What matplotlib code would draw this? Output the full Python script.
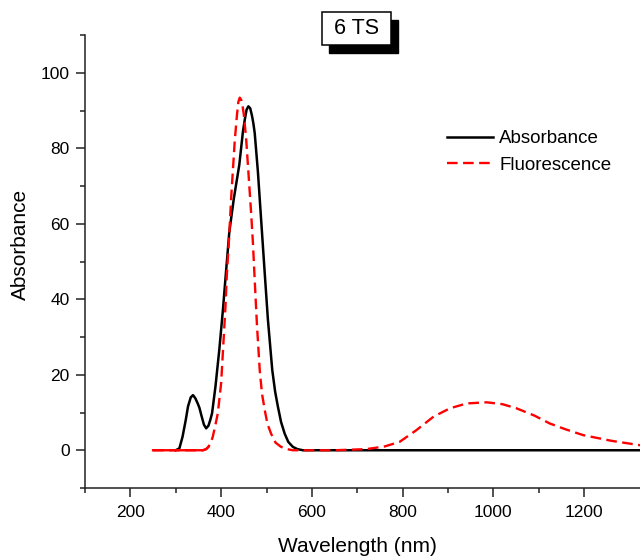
import matplotlib
matplotlib.use("Agg")
import matplotlib.pyplot as plt
from matplotlib.patches import Rectangle
from matplotlib.ticker import MultipleLocator, FixedLocator

plt.rcParams['font.family'] = ['Liberation Sans', 'DejaVu Sans']

# ---- data ----
abs_wl = [300, 308, 315, 322, 327, 333, 338, 343, 348, 352, 357, 362, 367, 372, 376,
          380, 387.5, 396, 404, 410, 418, 428, 440, 448, 452, 456, 460, 464, 468, 471, 474,
          481, 489, 496, 503, 512.6, 519, 525, 532, 540, 548, 558, 568, 580, 700, 1000, 1330]
abs_val = [0, 0.5, 3.6, 8, 11.6, 14, 14.6, 13.8, 12.5, 11.3, 9, 6.8, 5.8, 6.5, 8,
           9.8, 16.9, 26.7, 37.3, 46.2, 57.8, 66.7, 75.6, 84.4, 87.5, 90.2, 91.1, 90.6, 88.6, 86.6, 84.0,
           73.8, 59.5, 47, 34.7, 21.3, 15.5, 11.6, 7.5, 4.4, 2.2, 0.9, 0.3, 0, 0, 0, 0]

flu_wl = [250, 360, 367, 372, 377, 381.6, 387, 392.7, 400, 405, 409.6, 412.4, 417, 422,
          430, 435, 438, 441, 444, 447, 450, 455, 461, 466, 470, 474, 479, 485, 490, 496,
          502, 510, 520, 532, 545, 558, 650, 720, 760, 793, 830, 868, 904, 941,
          985, 1020, 1051, 1090, 1124, 1160, 1198, 1260, 1325]
flu_val = [0, 0, 0.3, 0.9, 2.0, 3.6, 6.5, 9.8, 17.8, 28.4, 38.2, 46.2, 55.1, 66.7,
           82, 89, 92.3, 93.4, 92.9, 91.4, 88.9, 82.7, 72, 63, 55, 45, 33, 21.3, 15, 10.7,
           7, 4.4, 2, 0.9, 0.3, 0, 0, 0.3, 1, 2.2, 5.3, 8.9, 11.1, 12.4,
           12.7, 12.2, 11.1, 9.2, 7.1, 5.5, 4, 2.5, 1.3]

series_labels = ["Absorbance", "Fluorescence"]
x_ticks = [200, 400, 600, 800, 1000, 1200]
y_ticks = [0, 20, 40, 60, 80, 100]

W, H = 640, 557
fig = plt.figure(figsize=(W / 100, H / 100), dpi=100)
ax = fig.add_axes([85 / W, 1 - 488 / H, (W - 85) / W, (488 - 35) / H])

ax.plot(abs_wl, abs_val, color='black', lw=1.8, label=series_labels[0])
ax.plot(flu_wl, flu_val, color='#ff0000', lw=1.7, dashes=(4.5, 2.3), label=series_labels[1])
# flat baseline part of the fluorescence trace renders solid in the original
ax.plot(flu_wl[:4], flu_val[:4], color='#ff0000', lw=1.7)

ax.set_xlim(100, 1323)
ax.set_ylim(-10, 110)
ax.set_xticks(x_ticks)
ax.set_yticks(y_ticks)
ax.xaxis.set_minor_locator(FixedLocator([100, 300, 500, 700, 900, 1100]))
ax.yaxis.set_minor_locator(MultipleLocator(10))

for s in ['top', 'right']:
    ax.spines[s].set_visible(False)
for s in ['left', 'bottom']:
    ax.spines[s].set_linewidth(1.1)
    ax.spines[s].set_color('#222222')

ax.tick_params(which='major', direction='out', length=6.5, width=1.1, labelsize=12.5,
               pad=4.5, color='#222222')
ax.tick_params(which='minor', direction='out', length=3.5, width=1.1, color='#222222')
ax.tick_params(axis='x', which='major', pad=5.5)

fig.text(357 / W, 1 - 547 / H, "Wavelength (nm)", ha='center', va='center', fontsize=15)
fig.text(20 / W, 1 - 244 / H, "Absorbance", ha='center', va='center', rotation=90, fontsize=15)

leg = ax.legend(loc='upper left', bbox_to_anchor=(446.7 / W, 1 - 130.3 / H),
                bbox_transform=fig.transFigure, frameon=False, fontsize=13.5,
                handlelength=2.45, handletextpad=0.35, labelspacing=0.5,
                borderpad=0, borderaxespad=0)

# title box with shadow
bx0, bx1, by0, by1 = 321.7, 390.7, 11.7, 45
off_x, off_y = 7, 8
fig.patches.append(Rectangle(((bx0 + off_x) / W, 1 - (by1 + off_y) / H),
                             (bx1 - bx0) / W, (by1 - by0) / H,
                             transform=fig.transFigure, facecolor='black',
                             edgecolor='black', zorder=5))
fig.patches.append(Rectangle((bx0 / W, 1 - by1 / H), (bx1 - bx0) / W, (by1 - by0) / H,
                             transform=fig.transFigure, facecolor='white',
                             edgecolor='black', lw=1.1, zorder=6))
fig.text((bx0 + bx1) / 2 / W, 1 - 28.5 / H, "6 TS", ha='center', va='center',
         fontsize=15.5, zorder=7)

fig.savefig("out.png", dpi=100)
